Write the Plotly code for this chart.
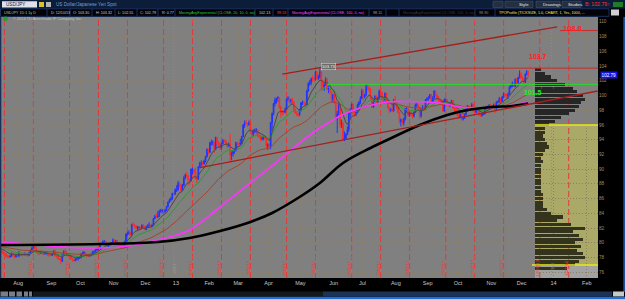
import numpy as np
import pandas as pd
import plotly.graph_objects as go

# ------------------------------------------------------------------ data
start_date = "2012-07-16"
end_date = "2013-12-10"

# closes before the visible window (May 1 - Jul 13 2012), used only to warm up the averages
pre_close = [80.0, 80.2, 80.2, 79.8, 79.9, 79.8, 79.9, 79.9, 80.0, 79.8, 80.4, 80.1, 79.3, 79.0, 79.3, 79.5, 79.5, 79.6, 79.6, 79.5, 79.4, 79.0, 78.3,
             78.2, 78.3, 78.3, 79.3, 79.6, 79.6, 79.4, 79.6, 79.4, 79.4, 78.7, 78.9, 79.0, 79.6, 80.3, 80.4, 80.5, 79.6, 79.7, 79.8, 79.8,
             79.8, 79.8, 79.8, 79.9, 79.6, 79.5, 79.5, 79.8, 79.3, 79.2]

close = [
    # Jul 2012
    78.8, 79.0, 78.8, 78.6, 78.5, 78.2, 78.2, 78.1, 78.2, 78.5, 78.3, 78.1,
    # Aug
    78.3, 78.2, 78.5, 78.4, 78.4, 78.4, 78.5, 78.3, 78.3, 78.6, 78.9, 79.3, 79.5, 79.3, 78.7, 78.6, 78.6, 78.7, 78.6, 78.5, 78.6, 78.6, 78.3,
    # Sep
    78.3, 78.3, 78.5, 78.9, 78.2, 78.2, 77.8, 77.8, 77.5, 78.4, 78.8, 78.6, 78.4, 78.3, 78.3, 77.8, 77.7, 77.6, 77.8, 77.9,
    # Oct
    78.0, 78.0, 78.5, 78.6, 78.7, 78.3, 78.3, 78.2, 78.4, 78.4, 78.8, 78.8, 79.0, 79.2, 79.2, 79.9, 79.8, 80.2, 80.2, 79.7, 79.8, 79.8, 79.8,
    # Nov
    80.0, 80.4, 80.2, 80.3, 80.0, 79.9, 79.5, 79.5, 79.4, 80.2, 81.2, 81.3, 81.3, 81.1, 82.5, 82.4, 82.3, 82.0, 82.1, 82.1, 82.0, 82.4,
    # Dec
    82.2, 81.8, 82.1, 82.4, 82.4, 82.2, 82.4, 83.3, 83.6, 83.5, 83.6, 84.3, 84.3, 84.4, 84.2, 84.4, 84.9, 85.5, 85.8, 86.0, 86.7,
    # Jan 2013
    86.6, 87.2, 87.2, 88.1, 87.9, 87.1, 87.8, 88.8, 89.2, 89.1, 88.6, 88.4, 90.0, 90.0, 89.6, 88.7, 88.6, 90.3, 90.8, 90.8, 90.7, 91.1, 91.7,
    # Feb
    92.7, 92.3, 93.6, 93.6, 93.6, 92.7, 94.3, 93.5, 93.3, 92.9, 93.5, 93.9, 93.8, 93.5, 93.2, 93.4, 91.9, 92.1, 92.4, 92.5,
    # Mar
    93.6, 93.4, 93.4, 93.5, 94.4, 96.0, 96.3, 96.2, 96.0, 96.3, 95.2, 94.7, 95.2, 95.2, 95.3, 94.5, 94.5, 94.1, 94.2, 94.3, 94.2,
    # Apr
    93.2, 93.3, 93.1, 96.3, 97.5, 98.9, 99.4, 99.6, 99.7, 98.4, 97.8, 97.7, 97.7, 98.1, 99.5, 99.6, 99.2, 99.4, 99.1, 98.1, 97.6, 97.4,
    # May
    97.4, 98.0, 99.0, 99.1, 99.0, 98.7, 100.6, 101.6, 101.8, 102.3, 102.2, 102.2, 103.2, 102.3, 102.4, 103.2, 101.9, 101.2, 101.4, 102.2, 100.9, 101.0, 100.5,
    # Jun
    99.5, 100.1, 99.1, 96.8, 97.5, 98.7, 96.1, 96.2, 94.1, 94.2, 94.7, 95.3, 97.8, 97.8, 98.8, 97.6, 97.6, 97.7, 98.7, 99.1,
    # Jul
    99.6, 100.6, 99.8, 100.1, 101.2, 101.0, 100.8, 99.6, 98.4, 99.2, 99.9, 99.1, 99.6, 100.6, 100.4, 99.6, 99.4, 100.3, 99.2, 98.3, 97.9, 98.1, 97.9,
    # Aug
    99.4, 98.9, 98.3, 97.7, 96.4, 96.7, 96.3, 96.8, 98.2, 98.2, 97.3, 97.6, 97.5, 97.2, 97.7, 98.7, 98.7, 98.4, 97.2, 98.1, 98.4, 98.1,
    # Sep
    99.4, 99.6, 99.7, 100.1, 99.1, 99.6, 100.6, 100.0, 99.6, 99.4, 99.0, 99.1, 97.9, 99.4, 99.4, 98.8, 98.6, 98.9, 99.3, 98.3, 98.2,
    # Oct
    98.0, 97.3, 97.1, 97.5, 96.8, 96.9, 97.4, 98.2, 98.6, 98.3, 98.3, 98.8, 97.9, 97.7, 98.2, 98.1, 97.3, 97.3, 97.4, 97.5, 98.2, 98.4, 98.4,
    # Nov
    98.7, 98.6, 98.6, 98.7, 98.1, 99.1, 99.2, 99.6, 99.2, 99.8, 100.2, 100.0, 100.0, 100.1, 101.1, 101.3, 101.6, 101.2, 102.2, 101.7, 102.4,
    # Dec
    102.9, 102.4, 102.3, 101.8, 102.9, 103.3, 102.79,
]

high = [
    79.3, 79.2, 79.1, 78.9, 78.7, 78.6, 78.4, 78.3, 78.4, 78.7, 78.5, 78.4,
    78.5, 78.7, 78.9, 78.6, 78.6, 78.6, 78.7, 78.6, 78.5, 78.8, 79.1, 79.5, 79.7, 79.6, 79.4, 78.9, 78.8, 78.9, 78.8, 78.7, 78.8, 78.8, 78.7,
    78.4, 78.5, 78.6, 79.0, 79.1, 78.3, 78.2, 77.9, 77.9, 78.5, 79.0, 79.2, 78.9, 78.5, 78.4, 78.3, 77.9, 77.8, 77.9, 78.0,
    78.1, 78.2, 78.6, 78.8, 78.9, 78.7, 78.4, 78.4, 78.5, 78.6, 78.9, 79.0, 79.2, 79.4, 79.4, 80.0, 80.0, 80.3, 80.4, 80.3, 79.9, 80.0, 80.0,
    80.1, 80.6, 80.4, 80.4, 80.4, 80.0, 79.9, 79.6, 79.5, 80.3, 81.3, 81.5, 81.7, 81.5, 82.6, 82.8, 82.5, 82.2, 82.3, 82.2, 82.2, 82.5,
    82.5, 82.3, 82.3, 82.5, 82.8, 82.4, 82.6, 83.4, 83.8, 84.0, 84.3, 84.5, 84.6, 84.6, 84.5, 84.6, 85.0, 85.6, 86.0, 86.2, 86.8,
    86.8, 87.4, 87.8, 88.4, 88.3, 87.9, 88.0, 89.1, 89.4, 89.6, 89.2, 88.7, 90.1, 90.2, 90.0, 90.2, 89.0, 90.4, 91.0, 91.2, 91.1, 91.3, 91.8,
    92.8, 92.8, 93.7, 94.0, 93.9, 93.7, 94.4, 94.3, 93.8, 93.6, 93.6, 94.1, 94.0, 94.0, 93.6, 93.6, 94.8, 92.4, 92.6, 92.8,
    93.7, 93.7, 93.6, 94.1, 94.5, 96.1, 96.6, 96.7, 96.3, 96.6, 96.3, 95.3, 95.4, 95.5, 95.6, 95.4, 94.9, 94.6, 94.4, 94.5, 94.5,
    94.2, 93.5, 93.5, 96.4, 97.7, 99.0, 99.7, 99.7, 99.9, 99.7, 98.6, 98.0, 98.0, 98.4, 99.6, 99.9, 99.8, 99.5, 99.7, 99.2, 98.2, 97.8,
    97.6, 98.2, 99.1, 99.3, 99.3, 99.1, 100.8, 101.8, 102.1, 102.4, 102.7, 102.5, 103.3, 103.3, 102.8, 103.7, 103.2, 102.1, 101.7, 102.5, 102.3, 101.3, 101.3,
    100.5, 100.2, 100.4, 99.3, 97.9, 99.0, 98.8, 96.7, 96.4, 95.1, 94.9, 95.8, 97.9, 98.3, 98.9, 98.9, 98.0, 98.0, 98.9, 99.2,
    99.9, 100.9, 100.8, 100.2, 101.5, 101.5, 101.3, 101.0, 99.7, 99.4, 100.0, 100.1, 99.8, 100.8, 100.9, 100.4, 99.8, 100.4, 100.3, 99.4, 98.5, 98.3, 98.7,
    99.5, 99.9, 99.1, 98.5, 97.8, 96.9, 96.8, 97.0, 98.3, 98.4, 98.2, 97.8, 97.8, 97.6, 97.9, 98.9, 99.0, 98.8, 98.5, 98.2, 98.7, 98.6,
    99.5, 99.7, 99.9, 100.2, 100.2, 99.9, 100.7, 100.6, 100.1, 99.9, 99.4, 99.2, 99.4, 99.6, 99.6, 99.4, 99.0, 99.0, 99.4, 99.2, 98.4,
    98.4, 98.1, 97.4, 97.6, 97.5, 97.0, 97.5, 98.3, 98.7, 98.6, 98.5, 99.0, 98.8, 98.0, 98.3, 98.4, 98.2, 97.6, 97.6, 97.8, 98.3, 98.6, 98.6,
    98.8, 98.8, 98.7, 98.9, 98.9, 99.2, 99.3, 99.8, 99.6, 99.9, 100.4, 100.3, 100.2, 100.4, 101.3, 101.4, 101.9, 101.7, 102.3, 102.3, 102.5,
    103.4, 103.2, 102.6, 102.4, 103.0, 103.4, 103.3,
]

low = [
    78.7, 78.6, 78.6, 78.4, 78.3, 78.0, 77.9, 77.9, 78.0, 78.1, 78.1, 77.9,
    78.0, 78.0, 78.1, 78.2, 78.2, 78.3, 78.3, 78.2, 78.1, 78.2, 78.5, 78.8, 79.2, 79.1, 78.6, 78.4, 78.3, 78.5, 78.4, 78.3, 78.4, 78.4, 78.2,
    78.1, 78.2, 78.2, 78.4, 78.1, 78.0, 77.7, 77.6, 77.1, 77.4, 78.3, 78.5, 78.2, 78.0, 78.0, 77.7, 77.5, 77.4, 77.5, 77.6,
    77.6, 77.8, 77.9, 78.3, 78.4, 78.2, 78.1, 78.0, 78.1, 78.2, 78.3, 78.6, 78.7, 78.9, 79.0, 79.2, 79.6, 79.7, 80.0, 79.6, 79.5, 79.3, 79.6,
    79.7, 79.9, 80.0, 80.0, 79.8, 79.6, 79.3, 79.3, 79.2, 79.3, 80.1, 80.9, 81.1, 80.9, 81.0, 82.2, 82.0, 81.8, 81.7, 81.8, 81.9, 81.9,
    82.0, 81.7, 81.7, 82.0, 82.1, 82.0, 82.1, 82.3, 83.2, 83.4, 83.4, 83.5, 84.1, 84.0, 83.7, 84.1, 84.3, 84.8, 85.4, 85.6, 85.8,
    86.4, 86.5, 86.9, 87.0, 87.5, 86.8, 87.0, 87.7, 88.6, 88.9, 87.8, 87.9, 88.4, 89.3, 89.3, 88.6, 88.1, 88.6, 90.1, 90.4, 90.4, 90.6, 90.9,
    91.6, 92.0, 92.2, 93.2, 93.2, 92.2, 92.6, 93.2, 92.9, 92.6, 92.7, 93.4, 93.6, 93.3, 92.8, 93.0, 90.9, 91.2, 91.7, 92.1,
    92.4, 92.7, 93.0, 93.3, 93.4, 94.4, 95.6, 95.9, 95.7, 95.9, 95.0, 94.1, 94.5, 94.9, 94.8, 94.3, 94.2, 93.8, 93.9, 93.9, 94.0,
    92.9, 92.6, 92.9, 92.7, 95.2, 97.3, 98.5, 98.9, 99.1, 98.2, 97.0, 97.3, 97.4, 97.6, 98.1, 99.2, 98.9, 98.9, 98.8, 97.9, 97.5, 97.2,
    97.1, 97.2, 97.8, 98.7, 98.7, 98.6, 98.7, 100.5, 101.3, 101.4, 101.9, 101.8, 102.0, 102.1, 102.1, 102.3, 100.6, 100.8, 100.6, 101.3, 100.7, 100.3, 100.2,
    99.1, 99.0, 98.8, 96.6, 94.9, 97.3, 95.6, 95.6, 93.8, 93.8, 94.0, 94.6, 95.0, 96.9, 97.6, 97.3, 97.1, 97.2, 97.6, 98.4,
    98.8, 99.5, 99.3, 99.6, 99.9, 100.7, 100.5, 99.4, 98.3, 98.3, 99.1, 98.9, 99.0, 99.4, 100.2, 99.3, 99.1, 99.2, 99.0, 98.2, 97.6, 97.8, 97.7,
    97.8, 98.7, 98.2, 97.6, 96.2, 95.8, 96.1, 95.9, 96.6, 97.7, 97.1, 97.1, 97.2, 96.9, 97.0, 97.6, 98.4, 98.2, 96.8, 97.0, 97.9, 97.9,
    98.0, 99.1, 99.3, 99.5, 98.9, 99.0, 99.6, 99.8, 99.4, 99.2, 98.8, 98.8, 97.8, 97.8, 99.0, 98.7, 98.5, 98.4, 98.8, 98.2, 97.8,
    97.7, 97.2, 96.9, 96.9, 96.6, 96.6, 96.8, 97.3, 98.0, 98.0, 98.0, 98.2, 97.8, 97.6, 97.6, 97.6, 97.2, 97.1, 97.1, 97.3, 97.4, 98.1, 98.2,
    98.3, 98.4, 98.3, 98.4, 97.6, 97.9, 98.9, 99.0, 98.9, 99.1, 99.6, 99.8, 99.6, 99.5, 100.1, 100.9, 101.1, 101.1, 101.2, 101.5, 101.6,
    102.3, 102.2, 101.9, 101.6, 101.7, 102.7, 102.55,
]

# slow averages (magenta and black lines)
ma100_dates = ["2012-07-17", "2012-08-23", "2012-09-21", "2012-10-22", "2012-11-19", "2012-12-07", "2012-12-27", "2013-01-16",
               "2013-02-14", "2013-03-14", "2013-04-12", "2013-05-02", "2013-05-22", "2013-06-19", "2013-07-26", "2013-08-16",
               "2013-09-16", "2013-10-04", "2013-10-24", "2013-11-13", "2013-11-27", "2013-12-10"]
ma100_vals = [80.15, 79.70, 79.37, 79.30, 79.57, 80.11, 80.79, 81.74, 84.86, 87.99, 91.24, 93.55, 95.58, 97.75, 99.10, 99.17,
              98.97, 98.43, 98.29, 98.43, 98.70, 99.15]
ma200_dates = ["2012-07-17", "2012-10-22", "2012-12-17", "2013-01-16", "2013-02-14", "2013-03-15", "2013-04-05", "2013-05-02",
               "2013-05-22", "2013-06-13", "2013-07-10", "2013-07-29", "2013-08-27", "2013-09-23", "2013-10-11", "2013-11-05",
               "2013-11-25", "2013-12-10"]
ma200_vals = [79.70, 79.84, 80.11, 80.65, 81.60, 82.83, 84.05, 86.22, 88.12, 90.83, 92.87, 94.09, 95.99, 97.34, 98.02, 98.43,
              98.56, 98.90]

# TPO profile
tpo_price = [103.5, 103.0, 102.5, 102.0, 101.5, 101.0, 100.5, 100.0, 99.5, 99.0, 98.5, 98.0, 97.5, 97.0, 96.5, 96.0, 95.5, 95.0,
             94.5, 94.0, 93.5, 93.0, 92.5, 92.0, 91.5, 91.0, 90.5, 90.0, 89.5, 89.0, 88.5, 88.0, 87.5, 87.0, 86.5, 86.0, 85.5, 85.0,
             84.5, 84.0, 83.5, 83.0, 82.5, 82.0, 81.5, 81.0, 80.5, 80.0, 79.5, 79.0, 78.5, 78.0, 77.5, 77.0, 76.5]
tpo_count = [3, 5, 8, 11, 15, 19, 21, 24, 25, 23, 22, 20, 17, 13, 10, 7, 5, 5,
             4, 5, 6, 7, 5, 4, 3, 4, 3, 3, 3, 3, 3, 3, 3, 3, 4, 4, 4, 4,
             6, 8, 14, 11, 18, 25, 19, 22, 24, 20, 23, 21, 24, 25, 22, 20, 16]
value_area_high = 96.0
value_area_low = 77.0

# monthly option expirations (red dashed lines)
opex_dates = ["2012-07-20", "2012-08-17", "2012-09-21", "2012-10-19", "2012-11-16", "2012-12-21", "2013-01-18", "2013-02-15",
              "2013-03-15", "2013-04-19", "2013-05-17", "2013-06-21", "2013-07-19", "2013-08-16", "2013-09-20", "2013-10-18",
              "2013-11-15", "2013-12-20", "2014-01-17"]
opex_labels = ["7/20/12", "8/17/12", "9/21/12", "10/19/12", "11/16/12", "12/21/12", "1/18/13", "2/15/13", "3/15/13", "4/19/13",
               "5/17/13", "6/21/13", "7/19/13", "8/16/13", "9/20/13", "10/18/13", "11/15/13", "12/20/13", "1/17/14"]
year_dates = ["2013-01-01", "2014-01-01"]
year_labels = ["2013", "2014"]

month_dates = ["2012-08-01", "2012-09-03", "2012-10-01", "2012-11-01", "2012-12-03", "2013-01-01", "2013-02-01", "2013-03-01",
               "2013-04-01", "2013-05-01", "2013-06-03", "2013-07-01", "2013-08-01", "2013-09-02", "2013-10-01", "2013-11-01",
               "2013-12-02", "2014-01-01", "2014-02-03"]
month_labels = ["Aug", "Sep", "Oct", "Nov", "Dec", "13", "Feb", "Mar", "Apr", "May", "Jun", "Jul", "Aug", "Sep", "Oct", "Nov",
                "Dec", "14", "Feb"]
y_ticks = list(range(76, 111, 2))

# drawings
level_high = 103.7
level_pivot = 101.5
level_target = 108.8
upper_trend = [("2013-04-16", 102.9), ("2014-01-07", 109.3)]
lower_trend = [("2013-01-25", 90.2), ("2014-02-14", 100.6)]
peak_date, peak_val = "2013-05-22", 103.73
level_high_start = "2013-05-22"
level_pivot_start = "2013-05-29"
level_target_start = "2014-01-09"
last_price = 102.79

# ------------------------------------------------------------------ geometry
ANCHOR = "2012-08-01"
PLOT_W, PLOT_TOP, PLOT_BOT = 598, 17, 278
X0_PX, PX_BAR = 16.0, 1.447
Y_REF_PX, Y_REF_VAL, PX_UNIT = 272.3, 76.0, 7.37


def bidx(d):
    return int(np.busday_count(ANCHOR, pd.Timestamp(d).strftime("%Y-%m-%d")))


def PX(px):
    return px / PLOT_W


def PY(py):
    return (PLOT_BOT - py) / (PLOT_BOT - PLOT_TOP)


x_range = [(0 - X0_PX) / PX_BAR, (PLOT_W - X0_PX) / PX_BAR]
y_range = [Y_REF_VAL - (PLOT_BOT - Y_REF_PX) / PX_UNIT, Y_REF_VAL + (Y_REF_PX - PLOT_TOP) / PX_UNIT]

dates = pd.bdate_range(start_date, end_date)
assert len(dates) == len(close) == len(high) == len(low), (len(dates), len(close), len(high), len(low))
xi = np.busday_count(ANCHOR, dates.values.astype("datetime64[D]"))

cl = np.array(close)
op = np.array([pre_close[-1]] + close[:-1])
hi = np.maximum.reduce([np.array(high), op, cl])
lo = np.minimum.reduce([np.array(low), op, cl])

allc = pd.Series(pre_close + close)
n_pre = len(pre_close)
ema_fast = allc.ewm(span=9, adjust=False).mean().values[n_pre:]
ema_mid = allc.ewm(span=20, adjust=False).mean().values[n_pre:]
ema_slow = allc.ewm(span=50, adjust=False).mean().values[n_pre:]

fig = go.Figure()
fig.add_trace(go.Candlestick(
    x=xi, open=op, high=hi, low=lo, close=cl,
    increasing=dict(line=dict(color="#2233ff", width=1), fillcolor="#2233ff"),
    decreasing=dict(line=dict(color="#ff2a2a", width=1), fillcolor="#ff2a2a"),
    whiskerwidth=0, hoverinfo="skip"))
fig.add_trace(go.Scatter(x=xi, y=ema_slow, mode="lines", line=dict(color="#a3452e", width=1), hoverinfo="skip"))
fig.add_trace(go.Scatter(x=xi, y=ema_mid, mode="lines", line=dict(color="#2f9a2f", width=1), hoverinfo="skip"))
fig.add_trace(go.Scatter(x=xi, y=ema_fast, mode="lines", line=dict(color="#4a4a4a", width=1), hoverinfo="skip"))
fig.add_trace(go.Scatter(x=[bidx(d) for d in ma100_dates], y=ma100_vals, mode="lines",
                         line=dict(color="#ff33ff", width=1.6, shape="spline"), hoverinfo="skip"))
fig.add_trace(go.Scatter(x=[bidx(d) for d in ma200_dates], y=ma200_vals, mode="lines",
                         line=dict(color="#000000", width=2.6, shape="spline"), hoverinfo="skip"))

prof_colors = ["#262626" if p > value_area_high else "#34341d" for p in tpo_price]
fig.add_trace(go.Bar(y=tpo_price, x=tpo_count, base=0, orientation="h", xaxis="x2", yaxis="y", width=0.42,
                     marker=dict(color=prof_colors, line=dict(width=0)), hoverinfo="skip"))

PROF_LEFT = 535
PX_COUNT = 2.0

shapes = []
# value-area shading
shapes.append(dict(type="rect", xref="paper", yref="y", x0=PX(PROF_LEFT), x1=1, y0=value_area_low, y1=value_area_high,
                   fillcolor="#aba967", line=dict(width=0), layer="below"))
shapes.append(dict(type="rect", xref="paper", yref="y", x0=PX(PROF_LEFT), x1=1, y0=y_range[0], y1=value_area_low,
                   fillcolor="#a2a2a2", line=dict(width=0), layer="below"))
# option expiration lines
for d in opex_dates:
    shapes.append(dict(type="line", xref="x", yref="paper", x0=bidx(d), x1=bidx(d), y0=0, y1=1,
                       line=dict(color="#e03a3a", width=1, dash="6px,3px"), layer="below"))
for d in year_dates:
    shapes.append(dict(type="line", xref="x", yref="paper", x0=bidx(d), x1=bidx(d), y0=0, y1=1,
                       line=dict(color="#8f8a80", width=1, dash="1px,2px"), layer="below"))
# value-area bounds
shapes.append(dict(type="line", xref="paper", yref="y", x0=PX(PROF_LEFT), x1=1, y0=value_area_high, y1=value_area_high,
                   line=dict(color="#e8e81a", width=1.5)))
shapes.append(dict(type="line", xref="paper", yref="y", x0=PX(532), x1=1, y0=value_area_low, y1=value_area_low,
                   line=dict(color="#e8e81a", width=1.5)))
# levels
shapes.append(dict(type="line", xref="x", yref="y", x0=bidx(level_high_start), x1=x_range[1], y0=level_high, y1=level_high,
                   line=dict(color="#c42a2a", width=1)))
shapes.append(dict(type="line", xref="x", yref="y", x0=bidx(level_pivot_start), x1=x_range[1], y0=level_pivot, y1=level_pivot,
                   line=dict(color="#22dd22", width=1)))
shapes.append(dict(type="line", xref="x", yref="y", x0=bidx(level_target_start), x1=x_range[1], y0=level_target, y1=level_target,
                   line=dict(color="#c42a2a", width=1)))
# trendlines
for (d0, v0), (d1, v1) in [upper_trend, lower_trend]:
    shapes.append(dict(type="line", xref="x", yref="y", x0=bidx(d0), x1=bidx(d1), y0=v0, y1=v1,
                       line=dict(color="#a51e1e", width=1.3)))

# ---------------- chrome (header, footer, borders)
W_ALL = 625 / PLOT_W
shapes.append(dict(type="rect", xref="paper", yref="paper", x0=-0.01, x1=W_ALL + 0.01, y0=PY(8.5), y1=PY(-1),
                   fillcolor="#0c1d3a", line=dict(width=0)))
shapes.append(dict(type="rect", xref="paper", yref="paper", x0=PX(0.5), x1=PX(609), y0=PY(16.3), y1=PY(8.8),
                   fillcolor="#020208", line=dict(color="#1f3d7a", width=0.8)))
shapes.append(dict(type="rect", xref="paper", yref="paper", x0=PX(2), x1=PX(37), y0=PY(7.5), y1=PY(1.2),
                   fillcolor="#dde2ea", line=dict(width=0)))
shapes.append(dict(type="rect", xref="paper", yref="paper", x0=PX(39), x1=PX(44), y0=PY(7), y1=PY(2),
                   fillcolor="#d8c228", line=dict(width=0)))
shapes.append(dict(type="rect", xref="paper", yref="paper", x0=PX(46), x1=PX(51), y0=PY(7), y1=PY(2),
                   fillcolor="#b4b4b4", line=dict(width=0)))
for a, b in [(493, 503), (505, 533), (536, 560), (562, 581)]:
    shapes.append(dict(type="rect", xref="paper", yref="paper", x0=PX(a), x1=PX(b), y0=PY(7.5), y1=PY(1.2),
                       fillcolor="#24303f", line=dict(color="#4a5868", width=0.5)))
shapes.append(dict(type="rect", xref="paper", yref="paper", x0=PX(613), x1=PX(623), y0=PY(7), y1=PY(2),
                   fillcolor="#1f7a2a", line=dict(width=0)))
for sx in [47, 70, 92, 115, 137, 158, 175, 255, 273, 288, 369, 386, 399, 475, 495]:
    shapes.append(dict(type="line", xref="paper", yref="paper", x0=PX(sx), x1=PX(sx), y0=PY(16.3), y1=PY(8.8),
                       line=dict(color="#1f3d7a", width=0.8)))
shapes.append(dict(type="rect", xref="paper", yref="paper", x0=PX(611), x1=PX(619), y0=PY(15.5), y1=PY(9.5),
                   fillcolor="#d0d0d0", line=dict(width=0)))
# left/right borders
shapes.append(dict(type="rect", xref="paper", yref="paper", x0=0, x1=PX(1.3), y0=PY(278), y1=PY(17),
                   fillcolor="#1a2f5a", line=dict(width=0)))
shapes.append(dict(type="rect", xref="paper", yref="paper", x0=PX(623.3), x1=W_ALL, y0=PY(292), y1=PY(17),
                   fillcolor="#1f4f9a", line=dict(width=0)))
# copyright icon
shapes.append(dict(type="circle", xref="paper", yref="paper", x0=PX(3), x1=PX(8), y0=PY(21), y1=PY(16.5),
                   fillcolor="#2aa02a", line=dict(width=0)))
# footer scrollbar
for a, b in [(0.5, 8), (9, 15), (16.5, 22), (24, 28), (29, 32)]:
    shapes.append(dict(type="rect", xref="paper", yref="paper", x0=PX(a), x1=PX(b), y0=PY(296.5), y1=PY(291.5),
                       fillcolor="#7c7c84", line=dict(width=0)))
shapes.append(dict(type="rect", xref="paper", yref="paper", x0=PX(33), x1=PX(323), y0=PY(296.5), y1=PY(291.5),
                   fillcolor="#16181c", line=dict(width=0)))
shapes.append(dict(type="rect", xref="paper", yref="paper", x0=PX(323), x1=PX(612), y0=PY(296.5), y1=PY(291.5),
                   fillcolor="#1b3456", line=dict(width=0)))
shapes.append(dict(type="rect", xref="paper", yref="paper", x0=PX(613), x1=PX(624), y0=PY(296.5), y1=PY(291.5),
                   fillcolor="#c8c8c8", line=dict(width=0)))
shapes.append(dict(type="rect", xref="paper", yref="paper", x0=-0.01, x1=W_ALL + 0.01, y0=PY(299), y1=PY(296.8),
                   fillcolor="#1e6fd8", line=dict(width=0)))
shapes.append(dict(type="rect", xref="paper", yref="paper", x0=-0.01, x1=W_ALL + 0.01, y0=PY(301), y1=PY(299),
                   fillcolor="#c8c8c8", line=dict(width=0)))

FONT = "Liberation Sans, Arial, DejaVu Sans"
ann = []


def txt(px, py, s, color, size, xanchor="left", **kw):
    ann.append(dict(xref="paper", yref="paper", x=PX(px), y=PY(py), text=s, showarrow=False,
                    xanchor=xanchor, yanchor="middle", font=dict(family=FONT, size=size, color=color), **kw))


txt(4, 4.4, "USD/JPY", "#10203f", 4.6)
txt(54, 4.4, "US Dollar/Japanese Yen Spot", "#7f9ccc", 4.6)
txt(517, 4.4, "Style", "#e8e8e8", 4.3)
txt(541, 4.4, "Drawings", "#e8e8e8", 4.3)
txt(566, 4.4, "Studies", "#e8e8e8", 4.3)
txt(583, 4.4, "B: 102.79\u2191", "#ff3030", 5.2)
hdr = [(1.5, "USDJPY 1D:1 1y D", "#9ad29a"), (48.5, "D: 12/10/13", "#cfcfcf"), (71, "O: 103.30", "#cfcfcf"),
       (93.5, "H: 103.32", "#cfcfcf"), (116, "L: 102.55", "#cfcfcf"), (138, "C: 102.79", "#cfcfcf"),
       (159.5, "R: 0.77", "#cfcfcf"), (176.5, "MovingAvgExponential (CLOSE, 20, 10, 0, no)", "#33cc33"),
       (256.5, "102.13", "#cfcfcf"), (274.5, "99.53", "#ff4040"),
       (289.5, "MovingAvgExponential (CLOSE, 100, 0, no)", "#ff44ff"), (371, "98.11", "#a0a0a0"),
       (400.5, "MovingAvgExponential (CLOSE, 200, 0, no)", "#3a3a3a"), (477, "98.90", "#8c8c8c"),
       (497, "TPOProfile (TICKSIZE, 1.0, CHART, 1, Yes, 1000, ...", "#f0f070")]
for px, s, c in hdr:
    txt(px, 12.6, s, c, 3.7)
txt(11, 19, "\u00a9 2013 TD Ameritrade IP Company, Inc.", "#c4c4c4", 3.9)

# drawing labels
txt(572, 28.5, "<b>108.8</b>", "#ff2020", 7.5, xanchor="center")
txt(538, 56.5, "<b>103.7</b>", "#ff2020", 7, xanchor="center")
txt(533, 92, "<b>101.5</b>", "#22ee22", 7, xanchor="center")
for ax in (530, 540, 549):
    txt(ax, 64.5, "\u2193", "#ff2020", 5.5, xanchor="center")
for ax in (533, 541, 553):
    txt(ax, 86.5, "\u2191", "#22ee22", 5.5, xanchor="center")
ann.append(dict(xref="x", yref="paper", x=bidx(peak_date) + 6, y=PY(63.5), text="103.73", showarrow=False,
                font=dict(family=FONT, size=4.2, color="#f4f4f4"), bgcolor="#6a6a6a", bordercolor="#e0e0e0",
                borderwidth=0.5, borderpad=0.5))

# rotated expiration labels
for d, s in zip(opex_dates, opex_labels):
    ann.append(dict(xref="x", yref="paper", x=bidx(d) - 2.0, y=PY(268), text=s, textangle=-90, showarrow=False,
                    xanchor="center", yanchor="middle", font=dict(family=FONT, size=4.4, color="#ff3434")))
for d, s in zip(year_dates, year_labels):
    ann.append(dict(xref="x", yref="paper", x=bidx(d) + 0.5, y=PY(268), text=s, textangle=-90, showarrow=False,
                    xanchor="center", yanchor="middle", font=dict(family=FONT, size=4.4, color="#a09c90")))

# current price tag
ann.append(dict(xref="paper", yref="y", x=PX(599.5), y=last_price, text="102.79", showarrow=False, xanchor="left",
                yanchor="middle", font=dict(family=FONT, size=4.6, color="#ffffff"), bgcolor="#1414e0",
                borderpad=0.6))

fig.update_layout(
    width=625, height=300, margin=dict(l=0, r=27, t=17, b=22, pad=0),
    paper_bgcolor="#000000", plot_bgcolor="#808080", showlegend=False, hovermode=False,
    font=dict(family=FONT, size=5, color="#c0c0c0"),
    xaxis=dict(range=x_range, tickvals=[bidx(d) + 1.5 for d in month_dates], ticktext=month_labels,
               showgrid=True, gridcolor="#8f7f5e", griddash="1px,2px", gridwidth=1, zeroline=False, showline=False,
               ticks="", tickfont=dict(size=5.5, color="#c8c8c8"), rangeslider=dict(visible=False), fixedrange=True),
    xaxis2=dict(overlaying="x", anchor="y", range=[-PROF_LEFT / PX_COUNT, (PLOT_W - PROF_LEFT) / PX_COUNT],
                visible=False, fixedrange=True),
    yaxis=dict(side="right", range=y_range, tickvals=y_ticks, ticktext=[str(v) for v in y_ticks],
               showgrid=True, gridcolor="#8f7f5e", griddash="1px,2px", gridwidth=1, zeroline=False, showline=False,
               ticks="", tickfont=dict(size=4.6, color="#a38d62"), fixedrange=True),
    bargap=0, shapes=shapes, annotations=ann,
)

fig.write_html("out.html")
